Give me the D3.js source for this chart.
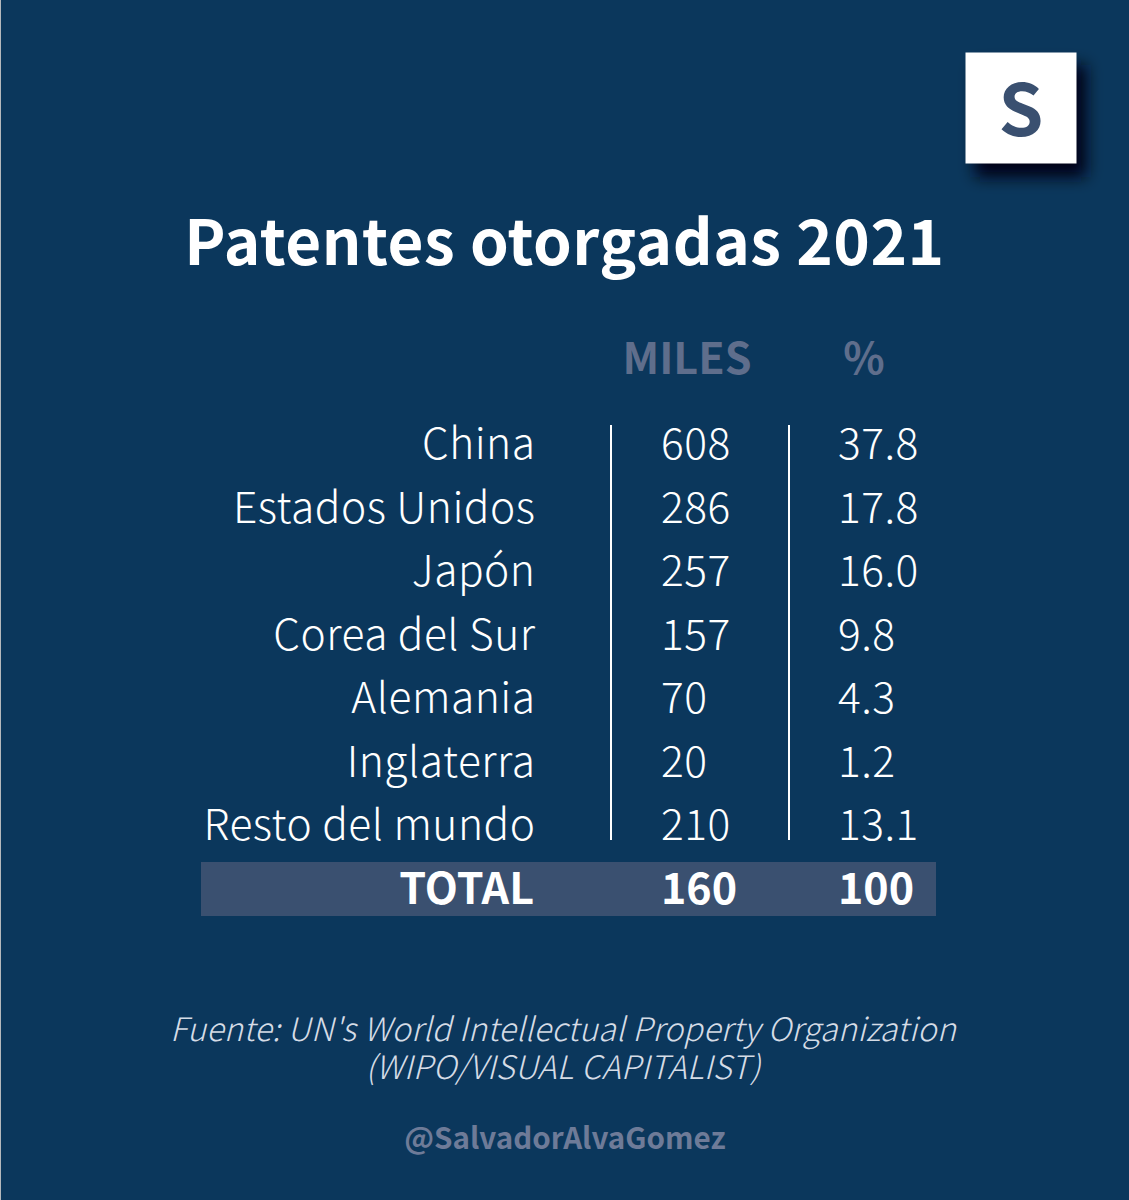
<!DOCTYPE html>
<html>
<head>
<meta charset="utf-8">
<script src="https://cdn.jsdelivr.net/npm/d3@7"></script>
<style>
  html, body { margin: 0; padding: 0; background: #0b375c; }
  svg { display: block; }
  text { font-family: "Noto Sans CJK SC", "Noto Sans", sans-serif; }
</style>
</head>
<body>
<script>
const countries = ['China', 'Estados Unidos', 'Japón', 'Corea del Sur', 'Alemania', 'Inglaterra', 'Resto del mundo'];
const miles = ['608', '286', '257', '157', '70', '20', '210'];
const pct = ['37.8', '17.8', '16.0', '9.8', '4.3', '1.2', '13.1'];
const totals = ['TOTAL', '160', '100'];
const headers = ['MILES', '%'];
const sourceLines = ["Fuente: UN's World Intellectual Property Organization", '(WIPO/VISUAL CAPITALIST)'];

const width = 1129, height = 1200;
const bg = '#0b375c', band = '#3a5070', white = '#ffffff', muted = '#5f6e8c';

const svg = d3.select('body').append('svg')
    .attr('width', width)
    .attr('height', height);

const blur = svg.append('defs').append('filter').attr('id', 'shadow')
    .attr('x', '-30%').attr('y', '-30%').attr('width', '160%').attr('height', '160%');
blur.append('feGaussianBlur').attr('stdDeviation', 8);

svg.append('rect').attr('width', width).attr('height', height).attr('fill', bg);
svg.append('rect').attr('width', 1).attr('height', height).attr('fill', '#b4b8bc');

// logo
svg.append('rect').attr('x', 975).attr('y', 65).attr('width', 111).attr('height', 112)
    .attr('fill', '#000018').attr('filter', 'url(#shadow)');
svg.append('rect').attr('x', 965.5).attr('y', 52.5).attr('width', 111).attr('height', 111)
    .attr('fill', white);
svg.append('text').attr('x', 1021).attr('y', 136).attr('text-anchor', 'middle')
    .attr('font-size', 72).attr('font-weight', 700).attr('fill', band).text('S');

svg.append('text').attr('x', 564.5).attr('y', 265).attr('text-anchor', 'middle')
    .attr('font-size', 62).attr('font-weight', 700).attr('letter-spacing', 0.55).attr('fill', white)
    .text('Patentes otorgadas 2021');

// column headers
const headerX = d3.scaleOrdinal().domain(headers).range([687, 864]);
svg.selectAll('text.head').data(headers).join('text')
    .attr('class', 'head')
    .attr('x', d => headerX(d)).attr('y', 374)
    .attr('text-anchor', 'middle')
    .attr('font-size', 43).attr('font-weight', 700).attr('fill', muted)
    .text(d => d);

// rows
const y = d3.scalePoint().domain(countries).range([459, 840]);

const rows = svg.append('g').selectAll('g').data(countries).join('g')
    .attr('transform', d => `translate(0,${y(d)})`);

function addText(sel, x, anchor, fn) {
    return sel.append('text').attr('x', x).attr('text-anchor', anchor)
        .attr('font-size', 42.5).attr('font-weight', 300).attr('letter-spacing', 0.5)
        .attr('fill', white).text(fn);
}
addText(rows, 535.5, 'end', d => d);
addText(rows, 661, 'start', (d, i) => miles[i]);
addText(rows, 838, 'start', (d, i) => pct[i]);

// separators
svg.selectAll('line.sep').data([611, 789]).join('line')
    .attr('class', 'sep')
    .attr('x1', d => d).attr('x2', d => d)
    .attr('y1', 425).attr('y2', 840)
    .attr('stroke', white).attr('stroke-width', 2);

// total band
svg.append('rect').attr('x', 201).attr('y', 862).attr('width', 735).attr('height', 54).attr('fill', band);
const totalX = [534, 661, 838];
const totalAnchor = ['end', 'start', 'start'];
svg.selectAll('text.total').data(totals).join('text')
    .attr('class', 'total')
    .attr('x', (d, i) => totalX[i]).attr('y', 904)
    .attr('text-anchor', (d, i) => totalAnchor[i])
    .attr('font-size', 43).attr('font-weight', 700).attr('fill', white)
    .text(d => d);

// footer
const source = svg.append('text').attr('y', 1041).attr('text-anchor', 'middle')
    .attr('font-size', 32.4).attr('font-weight', 300).attr('font-style', 'italic')
    .attr('letter-spacing', 0.2).attr('fill', '#d5dce6');
source.selectAll('tspan').data(sourceLines).join('tspan')
    .attr('x', 563)
    .attr('dy', (d, i) => i ? 38 : 0)
    .text(d => d);

svg.append('text').attr('x', 565).attr('y', 1149).attr('text-anchor', 'middle')
    .attr('font-size', 29.6).attr('font-weight', 700).attr('fill', '#6e7b98')
    .text('@SalvadorAlvaGomez');
</script>
</body>
</html>
